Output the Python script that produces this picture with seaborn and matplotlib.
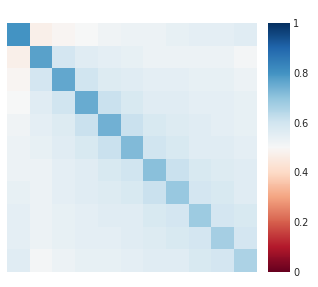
import numpy as np
import seaborn as sns
from matplotlib import pyplot as plt

# diagonal values
diag = [0.80, 0.77, 0.76, 0.75, 0.74, 0.72, 0.71, 0.69, 0.68, 0.67, 0.66]
# upper triangle, row by row (values right of the diagonal)
row0 = [0.47, 0.49, 0.50, 0.52, 0.53, 0.53, 0.54, 0.55, 0.55, 0.56]
row1 = [0.59, 0.56, 0.55, 0.54, 0.53, 0.53, 0.53, 0.53, 0.51]
row2 = [0.60, 0.57, 0.56, 0.55, 0.55, 0.54, 0.54, 0.53]
row3 = [0.61, 0.58, 0.56, 0.56, 0.55, 0.55, 0.54]
row4 = [0.61, 0.58, 0.57, 0.56, 0.55, 0.54]
row5 = [0.60, 0.58, 0.56, 0.56, 0.55]
row6 = [0.61, 0.58, 0.57, 0.56]
row7 = [0.59, 0.58, 0.56]
row8 = [0.59, 0.58]
row9 = [0.59]
upper = [row0, row1, row2, row3, row4, row5, row6, row7, row8, row9]

n = len(diag)
mat = np.diag(diag)
for i, r in enumerate(upper):
    mat[i, i + 1:] = r
    mat[i + 1:, i] = r

sns.set_style('white')
fig = plt.figure(figsize=(3.18, 2.87), dpi=100)
ax = fig.add_axes([0.022, 0.052, 0.786, 0.868])
cax = fig.add_axes([0.844, 0.052, 0.069, 0.868])
sns.heatmap(mat, ax=ax, cbar_ax=cax, cmap='RdBu', vmin=0, vmax=1,
            xticklabels=False, yticklabels=False)
cax.tick_params(labelsize=7, length=0, pad=2)
cax.set_yticks([0, 0.2, 0.4, 0.6, 0.8, 1])
cax.set_yticklabels(['0', '0.2', '0.4', '0.6', '0.8', '1'])
fig.savefig('out.png', dpi=100)
